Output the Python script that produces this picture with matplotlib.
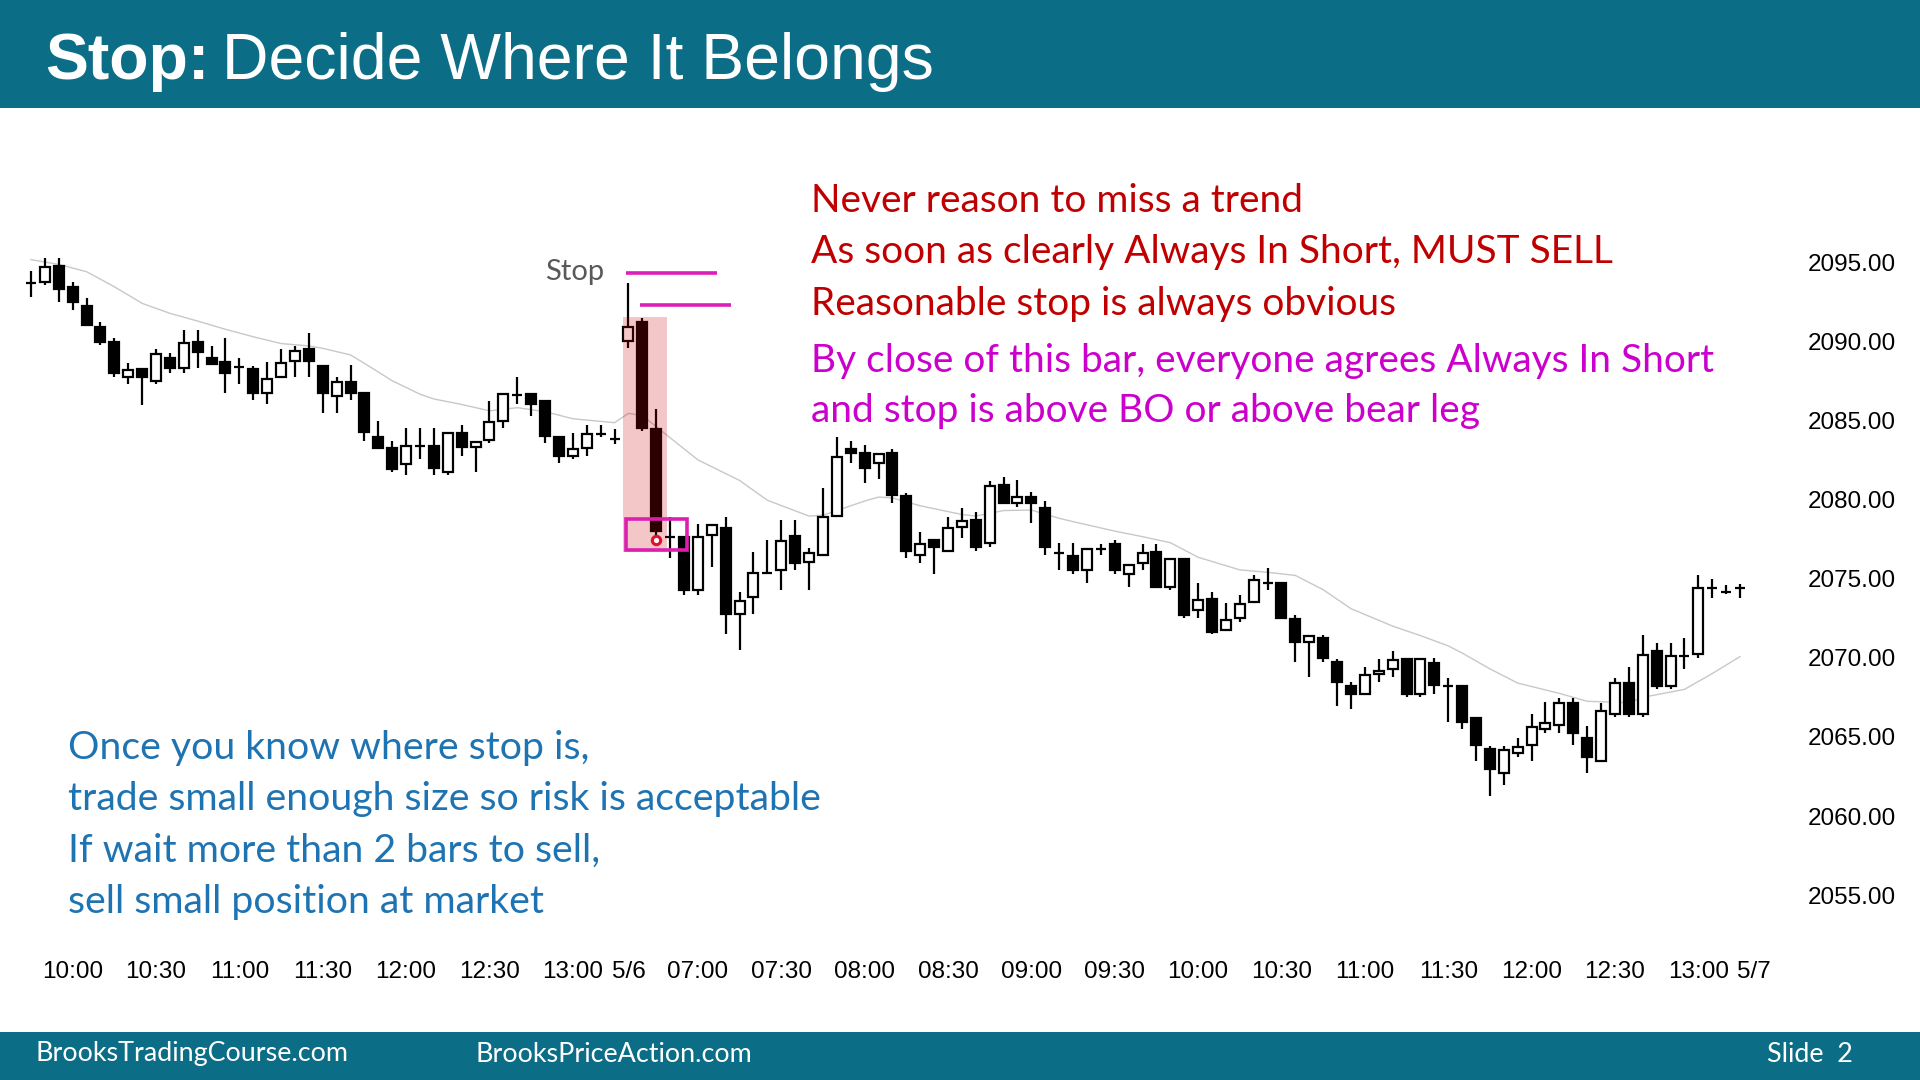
#!/usr/bin/env python3
"""
Stop: Decide Where It Belongs — 5 分钟 K 线图复刻
输出: out.png (1920x1080)
"""
import matplotlib
matplotlib.use("Agg")
import matplotlib.pyplot as plt
from matplotlib.patches import Rectangle

# ── K 线数据 (5/5 09:45 – 13:15, 5/6 06:35 – 13:15) ──
opens = [2093.65, 2093.76, 2094.75, 2093.44, 2092.22, 2090.91, 2089.97, 2087.75, 2088.24, 2087.50,
         2088.95, 2088.28, 2089.93, 2088.95, 2088.66, 2088.39, 2088.22, 2086.74, 2087.75, 2088.75,
         2089.48, 2088.45, 2086.53, 2087.44, 2086.70, 2083.97, 2083.23, 2082.24, 2083.40, 2083.40,
         2081.75, 2084.22, 2083.29, 2083.76, 2084.97, 2086.60, 2086.66, 2086.22, 2083.93, 2082.74,
         2083.27, 2084.13, 2083.82,
         2090.01, 2091.23, 2084.43, 2077.61, 2077.65, 2074.28, 2077.75, 2078.18, 2072.76, 2073.82,
         2075.37, 2075.54, 2077.69, 2076.03, 2076.49, 2078.95, 2083.17, 2082.91, 2082.28, 2082.95,
         2080.22, 2076.49, 2077.44, 2076.76, 2078.28, 2078.70, 2077.27, 2080.91, 2079.76, 2080.17,
         2079.44, 2076.64, 2076.43, 2075.54, 2076.85, 2077.19, 2075.29, 2075.97, 2076.70, 2074.49,
         2076.22, 2073.02, 2073.69, 2071.75, 2072.49, 2073.54, 2074.70, 2074.70, 2072.45, 2070.98,
         2071.23, 2069.71, 2068.22, 2067.71, 2068.97, 2069.27, 2069.92, 2067.71, 2069.69, 2068.22,
         2068.22, 2066.21, 2064.22, 2062.74, 2064.00, 2064.48, 2065.48, 2065.75, 2067.16, 2064.91,
         2063.48, 2066.45, 2068.42, 2066.45, 2070.45, 2068.24, 2070.13, 2070.22, 2074.39, 2074.17,
         2074.39]
highs = [2094.45, 2095.23, 2095.23, 2093.72, 2092.71, 2091.23, 2090.22, 2088.64, 2088.24, 2089.48,
         2089.23, 2090.70, 2090.70, 2089.69, 2090.22, 2088.95, 2088.45, 2088.70, 2089.48, 2089.69,
         2090.50, 2088.45, 2087.71, 2088.49, 2086.70, 2084.94, 2083.71, 2084.49, 2084.49, 2084.49,
         2084.18, 2084.70, 2083.65, 2086.22, 2086.66, 2087.71, 2086.66, 2086.22, 2083.93, 2084.22,
         2084.70, 2084.70, 2084.43,
         2093.69, 2091.44, 2085.69, 2078.91, 2077.65, 2078.45, 2078.39, 2078.91, 2074.17, 2076.70,
         2077.44, 2078.70, 2078.70, 2076.91, 2080.70, 2083.97, 2083.71, 2083.44, 2082.87, 2083.19,
         2080.43, 2077.92, 2077.44, 2078.91, 2079.44, 2079.23, 2081.18, 2081.44, 2081.23, 2080.45,
         2079.92, 2077.23, 2077.23, 2076.87, 2077.19, 2077.44, 2075.86, 2077.19, 2077.19, 2076.22,
         2076.22, 2074.70, 2074.17, 2073.44, 2073.96, 2075.23, 2075.69, 2074.70, 2072.70, 2071.39,
         2071.44, 2069.92, 2068.49, 2069.44, 2069.92, 2070.45, 2069.92, 2069.92, 2069.97, 2068.70,
         2068.22, 2066.21, 2064.43, 2064.43, 2064.91, 2066.45, 2067.22, 2067.48, 2067.48, 2065.69,
         2067.16, 2068.70, 2069.44, 2071.44, 2070.91, 2070.91, 2071.23, 2075.23, 2074.96, 2074.60,
         2074.66]
lows = [2092.77, 2093.55, 2092.49, 2091.97, 2091.02, 2089.76, 2087.75, 2087.27, 2085.97, 2087.27,
        2088.00, 2088.00, 2088.28, 2088.54, 2086.74, 2087.27, 2086.28, 2086.01, 2087.75, 2087.75,
        2087.75, 2085.48, 2085.48, 2086.28, 2083.71, 2083.27, 2081.72, 2081.54, 2082.53, 2081.54,
        2081.54, 2082.74, 2081.75, 2083.55, 2084.49, 2086.01, 2085.27, 2083.55, 2082.28, 2082.53,
        2082.74, 2083.97, 2083.50,
        2089.55, 2084.30, 2077.50, 2076.28, 2073.96, 2073.96, 2075.75, 2071.50, 2070.49, 2072.76,
        2075.37, 2074.28, 2075.54, 2074.28, 2076.49, 2078.95, 2082.28, 2081.02, 2081.29, 2079.79,
        2076.28, 2076.00, 2075.27, 2076.76, 2077.55, 2076.76, 2077.01, 2079.76, 2079.50, 2078.49,
        2076.49, 2075.54, 2075.29, 2074.74, 2076.49, 2075.29, 2074.49, 2075.54, 2074.49, 2074.28,
        2072.49, 2072.49, 2071.50, 2071.75, 2072.28, 2073.54, 2074.28, 2072.49, 2069.75, 2068.76,
        2069.75, 2066.97, 2066.76, 2067.71, 2068.49, 2068.76, 2067.50, 2067.50, 2067.71, 2065.96,
        2065.50, 2063.48, 2061.27, 2061.96, 2063.75, 2063.48, 2065.27, 2065.27, 2064.48, 2062.74,
        2063.48, 2066.28, 2066.28, 2066.28, 2068.01, 2068.01, 2069.27, 2070.00, 2073.76, 2074.01,
        2073.76]
closes = [2093.65, 2094.70, 2093.29, 2092.49, 2091.02, 2089.97, 2087.97, 2088.18, 2087.75, 2089.19,
          2088.28, 2089.86, 2089.30, 2088.54, 2088.00, 2088.39, 2086.74, 2087.61, 2088.64, 2089.40,
          2088.75, 2086.74, 2087.44, 2086.74, 2084.24, 2083.27, 2081.92, 2083.40, 2083.40, 2082.01,
          2084.18, 2083.29, 2083.65, 2084.87, 2086.66, 2086.60, 2086.03, 2084.01, 2082.74, 2083.17,
          2084.13, 2084.13, 2083.82,
          2090.91, 2084.49, 2078.00, 2077.61, 2074.28, 2077.61, 2078.39, 2072.76, 2073.60, 2075.37,
          2075.37, 2077.40, 2076.00, 2076.60, 2078.87, 2082.66, 2082.95, 2082.01, 2082.87, 2080.28,
          2076.76, 2077.17, 2077.01, 2078.18, 2078.66, 2077.01, 2080.85, 2079.76, 2080.17, 2079.76,
          2077.01, 2076.64, 2075.54, 2076.87, 2076.85, 2075.54, 2075.86, 2076.64, 2074.49, 2076.22,
          2072.70, 2073.65, 2071.64, 2072.38, 2073.40, 2074.91, 2074.70, 2072.49, 2070.98, 2071.39,
          2069.97, 2068.49, 2067.71, 2068.91, 2069.16, 2069.86, 2067.71, 2069.92, 2068.28, 2068.22,
          2065.96, 2064.48, 2062.96, 2064.17, 2064.38, 2065.64, 2065.86, 2067.16, 2065.27, 2063.75,
          2066.66, 2068.42, 2066.45, 2070.17, 2068.24, 2070.13, 2070.13, 2074.39, 2074.39, 2074.17,
          2074.39]

# 20 EMA (灰线)
ema_idx = [0, 2, 4, 6, 8, 10, 12, 14, 16, 18, 20, 21, 23, 24, 26, 28, 29, 31, 33, 35, 37, 39,
           42, 43, 44, 45, 48, 51, 53, 56, 57, 58, 60, 61, 62, 64, 67, 68, 70, 72, 74, 75, 78,
           80, 82, 84, 87, 89, 91, 93, 95, 98, 100, 102, 103, 105, 107, 110, 112, 115, 116, 119,
           121, 123]
ema_val = [2095.15, 2094.85, 2094.39, 2093.44, 2092.39, 2091.76, 2091.27, 2090.75, 2090.28,
           2089.85, 2089.70, 2089.55, 2089.13, 2088.60, 2087.50, 2086.65, 2086.35, 2086.00,
           2085.60, 2085.80, 2085.55, 2085.10, 2084.85, 2085.44, 2085.30, 2084.60, 2082.50,
           2081.20, 2079.95, 2078.95, 2079.00, 2079.30, 2079.90, 2080.15, 2080.10, 2079.60,
           2079.05, 2078.95, 2079.30, 2079.33, 2078.81, 2078.60, 2078.00, 2077.65, 2077.27,
           2076.35, 2075.55, 2075.40, 2075.20, 2074.30, 2073.10, 2072.00, 2071.40, 2070.75,
           2070.30, 2069.30, 2068.40, 2067.75, 2067.25, 2067.16, 2067.50, 2068.00, 2069.00,
           2070.07]

tick_pos = [3, 9, 15, 21, 27, 33, 39, 43, 48, 54, 60, 66, 72, 78, 84, 90, 96, 102, 108, 114, 120, 124]
tick_labels = ["10:00", "10:30", "11:00", "11:30", "12:00", "12:30", "13:00", "5/6",
               "07:00", "07:30", "08:00", "08:30", "09:00", "09:30", "10:00", "10:30",
               "11:00", "11:30", "12:00", "12:30", "13:00", "5/7"]
price_ticks = [2055, 2060, 2065, 2070, 2075, 2080, 2085, 2090, 2095]

# ── 标注 ──
signal_bar = 45                     # 大阴线 (索引)
highlight_x = (42.6, 45.8)          # 粉色高亮
highlight_y = (2076.7, 2091.55)
stop_lines = [(42.8, 49.4, 2094.3), (43.8, 50.4, 2092.3)]
entry_box_x = (42.8, 47.2)
entry_box_y = (2076.8, 2078.77)
entry_price = 2077.45

red_lines = ["Never reason to miss a trend",
             "As soon as clearly Always In Short, MUST SELL",
             "Reasonable stop is always obvious"]
magenta_lines = ["By close of this bar, everyone agrees Always In Short",
                 "and stop is above BO or above bear leg"]
blue_lines = ["Once you know where stop is,",
              "trade small enough size so risk is acceptable",
              "If wait more than 2 bars to sell,",
              "sell small position at market"]

TEAL = "#0B6E86"
BODY_FONT = ["Lato", "DejaVu Sans"]
ARIAL = ["Liberation Sans", "DejaVu Sans"]
W, H = 1920, 1080


def fx(px):
    return px / W


def fy(py):
    return 1 - py / H


fig = plt.figure(figsize=(19.2, 10.8), dpi=100)
fig.patch.set_facecolor("white")

# 顶部 / 底部色条
fig.patches.append(Rectangle((0, fy(108)), 1, 108 / H, transform=fig.transFigure,
                             facecolor=TEAL, edgecolor="none", zorder=0))
fig.patches.append(Rectangle((0, 0), 1, 48 / H, transform=fig.transFigure,
                             facecolor=TEAL, edgecolor="none", zorder=0))

# ── 主图 ──
ax = fig.add_axes([fx(20), fy(955), (1790 - 20) / W, (955 - 115) / H])
ax.set_xlim(-0.79, 126.6)
ax.set_ylim(2051.22, 2104.29)
for s in ax.spines.values():
    s.set_visible(False)

body_w = 0.72
for i, (o, h, l, c) in enumerate(zip(opens, highs, lows, closes)):
    ax.vlines(i, l, h, color="black", lw=1.6, zorder=2)
    fc = "white" if c > o else "black"
    ax.add_patch(Rectangle((i - body_w / 2, min(o, c)), body_w, abs(c - o),
                           facecolor=fc, edgecolor="black", lw=1.6, zorder=3))

ax.plot(ema_idx, ema_val, color="#C8C8C8", lw=1.0, zorder=1)

# 粉色高亮 + 止损线 + 入场框
ax.add_patch(Rectangle((highlight_x[0], highlight_y[0]), highlight_x[1] - highlight_x[0],
                       highlight_y[1] - highlight_y[0], facecolor="#CC0000", alpha=0.22,
                       edgecolor="none", zorder=4))
for x0, x1, lvl in stop_lines:
    ax.plot([x0, x1], [lvl, lvl], color="#DD1FB8", lw=2.6, zorder=5, solid_capstyle="butt")
ax.add_patch(Rectangle((entry_box_x[0], entry_box_y[0]), entry_box_x[1] - entry_box_x[0],
                       entry_box_y[1] - entry_box_y[0], facecolor="none",
                       edgecolor="#DD1FB0", lw=2.6, zorder=5))
ax.plot([signal_bar], [entry_price], "o", ms=6, mfc="white", mec="#E0102A", mew=2.2, zorder=6)
ax.text(signal_bar - 5.85, stop_lines[0][2] + 0.1, "Stop", ha="center", va="center",
        fontsize=21, color="#595959", family=BODY_FONT)

ax.set_xticks(tick_pos)
ax.set_xticklabels(tick_labels, family=ARIAL, fontsize=17.5)
ax.set_yticks(price_ticks)
ax.set_yticklabels([f"{p:.2f}" for p in price_ticks], family=ARIAL, fontsize=17.5)
ax.yaxis.tick_right()
ax.tick_params(axis="both", length=0)
ax.tick_params(axis="x", pad=4)
ax.tick_params(axis="y", pad=13)

# ── 标题 ──
t1 = fig.text(fx(45), fy(79), "Stop:", color="white", fontsize=46.4, fontweight="bold",
              family=ARIAL, va="baseline", ha="left")
r = fig.canvas.get_renderer()
bb = t1.get_window_extent(r)
fig.text(bb.x1 / W + fx(13), fy(79), "Decide Where It Belongs", color="white",
         fontsize=46.4, family=ARIAL, va="baseline", ha="left")

# ── 文字说明 ──
for k, line in enumerate(red_lines):
    fig.text(fx(811), fy(201 + 51.5 * k), line, color="#C00000", fontsize=28,
             family=BODY_FONT, va="center", ha="left")
for k, line in enumerate(magenta_lines):
    fig.text(fx(811), fy(361 + 50 * k), line, color="#CC00CC", fontsize=28,
             family=BODY_FONT, va="center", ha="left")
for k, line in enumerate(blue_lines):
    fig.text(fx(68), fy(748 + 51.4 * k), line, color="#1E74B2", fontsize=28.3,
             family=BODY_FONT, va="center", ha="left")

# ── 页脚 ──
fig.text(fx(35), fy(1054), "BrooksTradingCourse.com", color="white", fontsize=19.4,
         family=BODY_FONT, va="center", ha="left")
fig.text(fx(475), fy(1054), "BrooksPriceAction.com", color="white", fontsize=19.4,
         family=BODY_FONT, va="center", ha="left")
fig.text(fx(1767), fy(1054), "Slide  2", color="white", fontsize=19.4,
         family=BODY_FONT, va="center", ha="left")

fig.savefig("out.png", dpi=100)
